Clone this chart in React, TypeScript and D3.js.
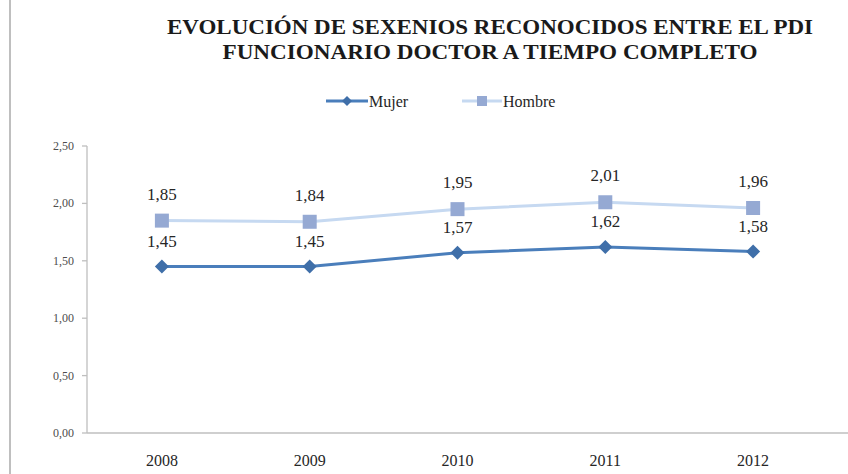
import * as d3 from "d3";

const years = ["2008", "2009", "2010", "2011", "2012"];
const mujer = [1.45, 1.45, 1.57, 1.62, 1.58];
const hombre = [1.85, 1.84, 1.95, 2.01, 1.96];
const yTicks = [0, 0.5, 1, 1.5, 2, 2.5];
const titleLines = [
  "EVOLUCIÓN DE SEXENIOS RECONOCIDOS ENTRE EL PDI",
  "FUNCIONARIO DOCTOR A TIEMPO COMPLETO",
];

const width = 848;
const height = 474;
const font =
  '"Liberation Serif", Tinos, "Times New Roman", Times, "Noto Serif", "DejaVu Serif", serif';
const axisColor = "#bfbfbf";
const mujerLine = "#4a7ebb";
const mujerMark = "#3f6fa9";
const hombreLine = "#c6d9f1";
const hombreMark = "#95a9d3";

const fmt = (v: number) => v.toFixed(2).replace(".", ",");

const App = () => {
  const x = d3.scaleBand().domain(years).range([88, 827]);
  const cx = (d: string) => (x(d) as number) + x.bandwidth() / 2;
  const y = d3.scaleLinear().domain([0, 2.5]).range([433, 146]);

  const line = d3
    .line<number>()
    .x((_, i) => cx(years[i]))
    .y(d => y(d));

  const diamond = (px: number, py: number, r: number) =>
    `M${px},${py - r}L${px + r},${py}L${px},${py + r}L${px - r},${py}Z`;

  return (
    <svg
      width={width}
      height={height}
      style={{ position: "absolute", left: 0, top: 0, background: "#fff", fontFamily: font }}
    >
      <line x1={10} x2={10} y1={0} y2={height} stroke={axisColor} strokeWidth={2} />

      {titleLines.map((t, i) => (
        <text
          key={t}
          x={490}
          y={34 + i * 25}
          textAnchor="middle"
          fontWeight="bold"
          fontSize={21}
          fill="#1a1a1a"
          textLength={i === 0 ? 646 : 535}
          lengthAdjust="spacingAndGlyphs"
        >
          {t}
        </text>
      ))}

      {/* legend */}
      <g fontSize={16} fill="#262626">
        <line x1={326} x2={368} y1={101} y2={101} stroke={mujerLine} strokeWidth={3} />
        <path d={diamond(347, 101, 5)} fill={mujerMark} />
        <text x={369} y={107}>Mujer</text>
        <line x1={462} x2={502} y1={101} y2={101} stroke={hombreLine} strokeWidth={3} />
        <rect x={477} y={96} width={10} height={10} fill={hombreMark} />
        <text x={503} y={107}>Hombre</text>
      </g>

      {/* axes */}
      <line x1={87} x2={87} y1={y(2.5)} y2={y(0)} stroke={axisColor} strokeWidth={1.3} />
      <line x1={87} x2={width} y1={y(0)} y2={y(0)} stroke={axisColor} strokeWidth={1.3} />
      {yTicks.map(t => (
        <g key={t}>
          <line x1={82} x2={87} y1={y(t)} y2={y(t)} stroke={axisColor} strokeWidth={1.3} />
          <text x={74} y={y(t) + 4} textAnchor="end" fontSize={12} fill="#4d4d4d">
            {fmt(t)}
          </text>
        </g>
      ))}
      {years.map(d => (
        <text key={d} x={cx(d)} y={466} textAnchor="middle" fontSize={16} fill="#262626">
          {d}
        </text>
      ))}

      {/* series */}
      <path d={line(hombre) as string} fill="none" stroke={hombreLine} strokeWidth={3} />
      <path d={line(mujer) as string} fill="none" stroke={mujerLine} strokeWidth={3} />

      {hombre.map((v, i) => (
        <g key={"h" + i}>
          <rect x={cx(years[i]) - 7} y={y(v) - 7} width={14} height={14} fill={hombreMark} />
          <text x={cx(years[i])} y={y(v) - 21} textAnchor="middle" fontSize={17} fill="#262626">
            {fmt(v)}
          </text>
        </g>
      ))}
      {mujer.map((v, i) => (
        <g key={"m" + i}>
          <path d={diamond(cx(years[i]), y(v), 7)} fill={mujerMark} />
          <text x={cx(years[i])} y={y(v) - 20} textAnchor="middle" fontSize={17} fill="#262626">
            {fmt(v)}
          </text>
        </g>
      ))}
    </svg>
  );
};

export default App;
